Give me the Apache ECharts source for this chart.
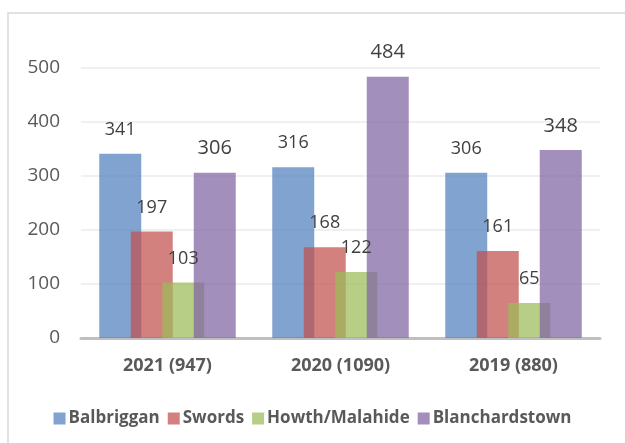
<!DOCTYPE html>
<html>
<head>
<meta charset="utf-8">
<script src="https://cdn.jsdelivr.net/npm/echarts@6/dist/echarts.min.js"></script>
<style>
html,body{margin:0;padding:0;background:#fff;}
#main{width:625px;height:443px;}
</style>
</head>
<body>
<div id="main"></div>
<script>
let years = ['2021 (947)', '2020 (1090)', '2019 (880)'];
let balbriggan = [341, 316, 306];
let swords = [197, 168, 161];
let howth = [103, 122, 65];
let blanch = [306, 484, 348];

function make_bar(name, data, color, fs) {
    return {
        name: name,
        type: 'bar',
        data: data,
        barWidth: 42,
        barGap: '-25%',
        barCategoryGap: '20%',
        itemStyle: {color: color},
        label: {
            show: true, position: 'top', distance: 24 - fs / 2,
            color: '#404040', fontSize: fs, fontFamily: 'Open Sans'
        }
    };
}

let chart_box = echarts.init(document.getElementById('main'));
let option = {
    animation: false,
    textStyle: {fontFamily: 'Open Sans'},
    graphic: [{
        type: 'rect', silent: true,
        shape: {x: 8, y: 13, width: 700, height: 500},
        style: {fill: 'none', stroke: '#d9d9d9', lineWidth: 1.5}
    }],
    grid: {left: 81, right: 25, top: 68, bottom: 105},
    legend: {
        top: 405,
        left: 'center',
        icon: 'rect',
        itemWidth: 12, itemHeight: 12, itemGap: 8,
        textStyle: {color: '#595959', fontSize: 17, fontWeight: 'bold', fontFamily: 'Open Sans', padding: [0, 0, 0, -2]}
    },
    xAxis: {
        type: 'category',
        data: years,
        axisTick: {show: false},
        axisLine: {lineStyle: {color: '#bfbfbf', width: 3}},
        axisLabel: {color: '#595959', fontSize: 18, fontWeight: 'bold', margin: 19}
    },
    yAxis: {
        type: 'value',
        min: 0, max: 500, interval: 100,
        axisLine: {show: false},
        axisTick: {show: false},
        axisLabel: {color: '#595959', fontSize: 19, margin: 21},
        splitLine: {lineStyle: {color: '#ebebeb', width: 1.5}}
    },
    series: [
        make_bar('Balbriggan', balbriggan, 'rgba(79,129,189,0.72)', 18),
        make_bar('Swords', swords, 'rgba(192,80,77,0.72)', 18),
        make_bar('Howth/Malahide', howth, 'rgba(155,187,89,0.72)', 18),
        make_bar('Blanchardstown', blanch, 'rgba(128,100,162,0.72)', 20)
    ]
};
chart_box.setOption(option);
</script>
</body>
</html>
